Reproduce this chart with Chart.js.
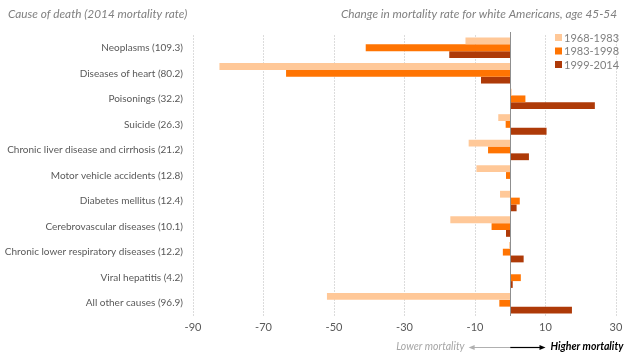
<!DOCTYPE html>
<html>
<head>
<meta charset="utf-8">
<script src="https://cdn.jsdelivr.net/npm/chart.js@4.4.1/dist/chart.umd.min.js"></script>
<style>
  html,body{margin:0;padding:0;background:#fff;}
  #wrap{position:relative;width:630px;height:358px;}
</style>
</head>
<body>
<div id="wrap"><canvas id="c" width="630" height="358"></canvas></div>
<script>
const categories = [
  "Neoplasms (109.3)",
  "Diseases of heart (80.2)",
  "Poisonings (32.2)",
  "Suicide (26.3)",
  "Chronic liver disease and cirrhosis (21.2)",
  "Motor vehicle accidents (12.8)",
  "Diabetes mellitus (12.4)",
  "Cerebrovascular diseases (10.1)",
  "Chronic lower respiratory diseases (12.2)",
  "Viral hepatitis (4.2)",
  "All other causes (96.9)"
];
const seriesNames = ["1968-1983", "1983-1998", "1999-2014"];
const period1968 = [-12.7, -82.5, 0.4, -3.4, -11.8, -9.6, -2.9, -17.0, -0.3, 0.1, -52.0];
const period1983 = [-41.0, -63.6, 4.3, -1.3, -6.3, -1.2, 2.7, -5.3, -2.1, 3.0, -3.1];
const period1999 = [-17.3, -8.3, 24.0, 10.3, 5.3, 0.2, 1.8, -1.2, 3.8, 0.7, 17.5];
const xTicks = [-90, -70, -50, -30, -10, 10, 30];
const leftTitle = "Cause of death (2014 mortality rate)";
const rightTitle = "Change in mortality rate for white Americans, age 45-54";
const lowerLabel = "Lower mortality";
const higherLabel = "Higher mortality";

const colors = ["#FFC898", "#FF7402", "#AE3A08"];
const FONT = "Lato, 'Open Sans', sans-serif";

const overlay = {
  id: 'overlay',
  afterDatasetsDraw(chart) {
    const ctx = chart.ctx;
    const xs = chart.scales.x;
    const area = chart.chartArea;
    const zx = Math.round(xs.getPixelForValue(0)) + 0.5;
    ctx.save();
    ctx.strokeStyle = '#8f8f8f';
    ctx.lineWidth = 1;
    ctx.beginPath();
    ctx.moveTo(zx, area.top - 3);
    ctx.lineTo(zx, area.bottom);
    ctx.stroke();
    ctx.restore();
  },
  afterDraw(chart) {
    const ctx = chart.ctx;
    const xs = chart.scales.x;
    const zx = xs.getPixelForValue(0);
    ctx.save();
    // titles
    ctx.font = "italic 11.8px " + FONT;
    ctx.fillStyle = '#808080';
    ctx.textBaseline = 'middle';
    ctx.textAlign = 'left';
    ctx.fillText(leftTitle, 8, 14);
    ctx.textAlign = 'right';
    ctx.fillText(rightTitle, 617, 14);

    // legend
    const ds = chart.data.datasets;
    ctx.font = "11px " + FONT;
    ctx.textAlign = 'left';
    ds.forEach((d, i) => {
      const y = 37.5 + i * 13.5;
      ctx.fillStyle = d.backgroundColor;
      ctx.fillRect(555, y - 3.5, 7, 7);
      ctx.fillStyle = '#7f7f7f';
      ctx.fillText(d.label, 564, y + 0.5);
    });

    // bottom annotation
    const ay = 347;
    const leftEnd = xs.getPixelForValue(-11.8);
    const rightEnd = xs.getPixelForValue(10);
    ctx.lineWidth = 1;
    ctx.strokeStyle = '#b0b0b0';
    ctx.fillStyle = '#b0b0b0';
    ctx.beginPath();
    ctx.moveTo(zx, ay + 0.5);
    ctx.lineTo(leftEnd + 5, ay + 0.5);
    ctx.stroke();
    ctx.beginPath();
    ctx.moveTo(leftEnd, ay + 0.5);
    ctx.lineTo(leftEnd + 6, ay - 2);
    ctx.lineTo(leftEnd + 6, ay + 3);
    ctx.closePath();
    ctx.fill();

    ctx.strokeStyle = '#000';
    ctx.fillStyle = '#000';
    ctx.lineWidth = 1.2;
    ctx.beginPath();
    ctx.moveTo(zx, ay + 0.5);
    ctx.lineTo(rightEnd - 5, ay + 0.5);
    ctx.stroke();
    ctx.beginPath();
    ctx.moveTo(rightEnd, ay + 0.5);
    ctx.lineTo(rightEnd - 6, ay - 2);
    ctx.lineTo(rightEnd - 6, ay + 3);
    ctx.closePath();
    ctx.fill();

    ctx.font = "italic 10.5px " + FONT;
    ctx.fillStyle = '#a6a6a6';
    ctx.textAlign = 'right';
    ctx.fillText(lowerLabel, leftEnd - 4, ay);
    ctx.font = "italic bold 10.5px " + FONT;
    ctx.fillStyle = '#000';
    ctx.textAlign = 'left';
    ctx.fillText(higherLabel, rightEnd + 5, ay);
    ctx.restore();
  }
};

new Chart(document.getElementById('c'), {
  type: 'bar',
  data: {
    labels: categories,
    datasets: [
      { label: seriesNames[0], data: period1968, backgroundColor: colors[0] },
      { label: seriesNames[1], data: period1983, backgroundColor: colors[1] },
      { label: seriesNames[2], data: period1999, backgroundColor: colors[2] }
    ]
  },
  options: {
    indexAxis: 'y',
    responsive: false,
    animation: false,
    events: [],
    layout: { padding: { top: 35, right: 14, bottom: 0, left: 0 } },
    datasets: { bar: { categoryPercentage: 0.8, barPercentage: 1.0, borderWidth: 0 } },
    plugins: { legend: { display: false }, tooltip: { enabled: false } },
    scales: {
      x: {
        min: -90, max: 30,
        afterBuildTicks(s) { s.ticks = xTicks.map(v => ({ value: v })); },
        afterFit(s) { s.height = 42; },
        grid: { color: '#dcdcdc', drawTicks: false, lineWidth: 1 },
        border: { display: false, dash: [2, 1] },
        ticks: { color: '#595959', font: { family: FONT, size: 11 }, padding: 5 }
      },
      y: {
        afterFit(s) { s.width = 193; },
        grid: { display: false, drawTicks: false },
        border: { display: false },
        ticks: { color: '#595959', font: { family: FONT, size: 10 }, padding: 10, autoSkip: false }
      }
    }
  },
  plugins: [overlay]
});
</script>
</body>
</html>
